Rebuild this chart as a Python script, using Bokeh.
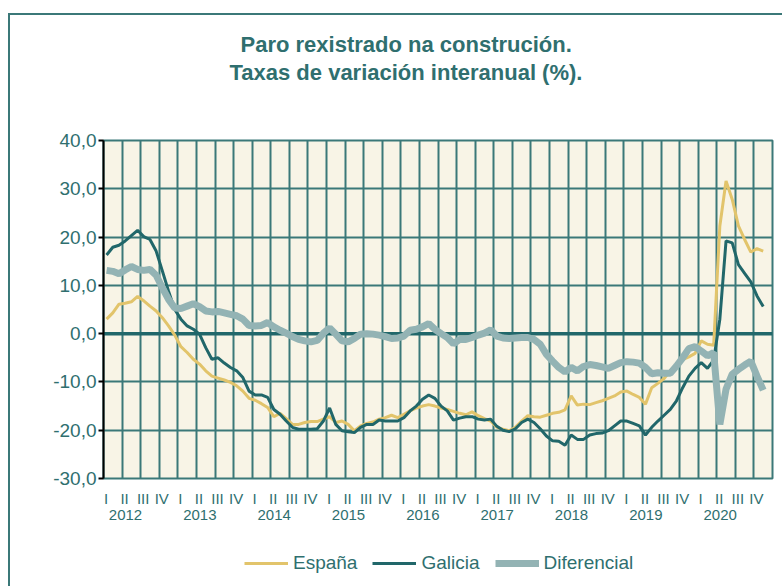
from bokeh.plotting import figure
from bokeh.layouts import column
from bokeh.models import (FixedTicker, LinearAxis, Legend, LegendItem, Title,
                          Range1d, Span, Grid)
from bokeh.embed import file_html
from bokeh.resources import INLINE

# ---------------- data ----------------
years = ["2012", "2013", "2014", "2015", "2016", "2017", "2018", "2019", "2020"]
quarters = ["I", "II", "III", "IV"]
y_ticks = [-30, -20, -10, 0, 10, 20, 30, 40]

# monthly values, Jan 2012 .. Nov 2020
espana = [
    3.0, 4.3, 6.1, 6.3, 6.6, 7.7, 6.8, 5.7, 4.7, 3.3, 1.6, -0.3,
    -2.7, -3.9, -5.3, -6.3, -7.7, -8.8, -9.2, -9.6, -10.1, -10.8, -11.9, -13.4,
    -13.8, -14.5, -15.3, -17.2, -16.5, -17.6, -18.8, -18.8, -18.4, -18.2, -18.2, -17.7,
    -17.2, -18.4, -18.1, -18.8, -20.1, -19.1, -18.6, -18.3, -17.7, -17.4, -16.9, -17.4,
    -16.7, -16.0, -15.4, -15.0, -14.7, -15.0, -15.4, -15.7, -16.1, -16.5, -16.8, -16.2,
    -17.0, -17.6, -18.1, -19.4, -19.8, -20.1, -19.4, -18.1, -17.0, -17.2, -17.3, -16.9,
    -16.5, -16.3, -15.8, -12.9, -14.8, -14.6, -14.7, -14.3, -13.9, -13.4, -12.9, -12.1,
    -11.9, -12.6, -13.2, -14.6, -11.2, -10.3, -9.3, -7.7, -6.5, -5.4, -4.8, -4.1,
    -1.5, -2.2, -2.4, 22.3, 31.6, 27.8, 22.3, 19.5, 16.9, 17.6, 17.1,
]
galicia = [
    16.3, 17.9, 18.3, 19.2, 20.3, 21.4, 20.1, 19.5, 17.1, 13.0, 8.8, 5.0,
    3.0, 1.6, 0.9, -0.1, -2.9, -5.3, -5.0, -6.1, -7.0, -7.7, -9.1, -11.9,
    -12.7, -12.7, -13.2, -15.7, -16.7, -18.1, -19.4, -19.8, -19.8, -19.8, -19.7, -18.1,
    -15.4, -18.8, -20.1, -20.3, -20.5, -19.4, -18.8, -18.8, -17.9, -18.1, -18.1, -18.1,
    -17.4, -16.0, -15.0, -13.6, -12.7, -13.4, -15.0, -16.0, -17.9, -17.5, -17.2, -17.2,
    -17.7, -17.9, -17.7, -19.2, -20.0, -20.3, -19.7, -18.4, -17.7, -18.4, -19.7, -21.2,
    -22.2, -22.3, -23.1, -21.0, -21.9, -21.9, -21.0, -20.7, -20.6, -20.1, -19.1, -18.1,
    -18.1, -18.6, -19.1, -21.0, -19.4, -18.1, -16.9, -15.7, -13.9, -11.2, -8.8, -7.2,
    -6.0, -7.2, -5.5, 3.0, 19.2, 18.8, 14.3, 12.5, 10.7, 7.8, 5.6,
]
diferencial = [
    13.1, 12.9, 12.4, 13.2, 13.9, 13.3, 13.1, 13.3, 12.1, 9.5, 7.1, 5.3,
    5.2, 5.7, 6.2, 5.6, 4.7, 4.5, 4.6, 4.3, 4.0, 3.7, 3.0, 1.7,
    1.6, 1.7, 2.3, 1.4, 0.7, 0.1, -0.6, -1.2, -1.5, -1.7, -1.4, 0.1,
    1.2, -0.1, -1.5, -1.7, -1.0, -0.1, 0.0, -0.1, -0.3, -0.6, -1.0, -0.9,
    -0.5, 0.7, 0.9, 1.4, 2.1, 0.9, 0.0, -0.8, -2.1, -1.2, -1.2, -0.8,
    -0.3, 0.1, 0.8, -0.5, -0.9, -1.0, -0.9, -0.8, -0.8, -1.2, -2.2, -4.3,
    -5.7, -7.0, -7.9, -7.0, -7.7, -6.8, -6.4, -6.6, -6.9, -7.2, -6.6, -6.0,
    -5.8, -5.9, -6.1, -7.0, -8.3, -8.1, -8.2, -8.2, -6.7, -5.0, -3.1, -2.7,
    -3.6, -4.6, -3.9, -18.8, -11.5, -8.4, -7.4, -6.5, -5.7, -8.8, -11.7,
]

# ---------------- style ----------------
TEAL_TXT = "#2F6F6F"
GRID = "#3B7878"
C_ESP = "#E2C46B"
C_GAL = "#21676A"
C_DIF = "#93B3B4"
BG = "#F8F4E6"
FONT = "Liberation Sans"

n_months = 12 * len(years)
x = [k + 0.5 for k in range(len(espana))]

p = figure(frame_width=669, frame_height=338, output_backend="svg",
           toolbar_location=None,
           x_range=Range1d(0, n_months), y_range=Range1d(-30, 40),
           x_axis_type=None, title=None,
           min_border_left=93, min_border_right=10, min_border_top=125,
           min_border_bottom=62,
           background_fill_color=BG, border_fill_color="white",
           outline_line_color=GRID, outline_line_width=2)

# grids
p.ygrid.ticker = FixedTicker(ticks=y_ticks)
p.ygrid.grid_line_color = GRID
p.ygrid.grid_line_width = 2
qb = [3 * q for q in range(4 * len(years) + 1)]
p.add_layout(Grid(dimension=0, ticker=FixedTicker(ticks=qb),
                  grid_line_color=GRID, grid_line_width=2))

p.add_layout(Span(location=0, dimension="width", line_color=C_GAL,
                  line_width=3.5, level="underlay"))

# y axis
ya = p.yaxis[0]
ya.ticker = FixedTicker(ticks=y_ticks)
ya.major_label_overrides = {v: f"{v},0" for v in y_ticks}
ya.axis_line_color = "black"
ya.axis_line_width = 2
ya.major_tick_line_color = "black"
ya.major_tick_line_width = 2
ya.major_tick_out = 5
ya.major_tick_in = 0
ya.minor_tick_line_color = None
ya.major_label_standoff = 2
ya.major_label_text_font = FONT
ya.major_label_text_font_size = "19px"
ya.major_label_text_color = TEAL_TXT

# x axes: quarters and years
q_ticks = [3 * q + 0.4 for q in range(4 * len(years))]
q_axis = LinearAxis(ticker=FixedTicker(ticks=q_ticks),
                    major_label_overrides={t: quarters[i % 4] for i, t in enumerate(q_ticks)},
                    axis_line_color=None, major_tick_line_color=None,
                    minor_tick_line_color=None, major_tick_out=0, major_tick_in=0,
                    major_label_standoff=11, major_label_text_font=FONT,
                    major_label_text_font_size="15px",
                    major_label_text_color=TEAL_TXT)
p.add_layout(q_axis, "below")
y_pos = [12 * i + 3.55 for i in range(len(years))]
y_axis2 = LinearAxis(ticker=FixedTicker(ticks=y_pos),
                     major_label_overrides={t: years[i] for i, t in enumerate(y_pos)},
                     axis_line_color=None, major_tick_line_color=None,
                     minor_tick_line_color=None, major_tick_out=0, major_tick_in=0,
                     major_label_standoff=0, major_label_text_font=FONT,
                     major_label_text_font_size="15px",
                     major_label_text_color=TEAL_TXT)
p.add_layout(y_axis2, "below")

# lines
r_e = p.line(x, espana, line_color=C_ESP, line_width=3)
r_g = p.line(x, galicia, line_color=C_GAL, line_width=3)
r_d = p.line(x, diferencial, line_color=C_DIF, line_width=7)

# title lines (spacer first, nearest the frame)
p.add_layout(Title(text=" ", text_font=FONT, text_font_size="22px",
                   standoff=28), "above")
p.add_layout(Title(text="Taxas de variación interanual (%).", align="left",
                   offset=126, text_font=FONT, text_font_size="22px",
                   text_font_style="bold", text_color=TEAL_TXT, standoff=1),
             "above")
p.add_layout(Title(text="Paro rexistrado na construción.", align="left",
                   offset=137, text_font=FONT, text_font_size="22px",
                   text_font_style="bold", text_color=TEAL_TXT, standoff=1),
             "above")

# legend strip below the chart (frames are aligned with the chart above)
p2 = figure(width=772, height=46, output_backend="svg", toolbar_location=None,
            x_axis_type=None, y_axis_type=None, title=None,
            min_border=0, outline_line_color=None,
            background_fill_color="white", border_fill_color="white")
l_e = p2.line(x, espana, line_color=C_ESP, line_width=3, visible=False)
l_g = p2.line(x, galicia, line_color=C_GAL, line_width=3, visible=False)
l_d = p2.line(x, diferencial, line_color=C_DIF, line_width=7, visible=False)
legend = Legend(items=[LegendItem(label="España", renderers=[l_e]),
                       LegendItem(label="Galicia", renderers=[l_g]),
                       LegendItem(label="Diferencial", renderers=[l_d])],
                orientation="horizontal", location=(141, 12),
                border_line_color=None, background_fill_alpha=0,
                label_text_font=FONT, label_text_font_size="19px",
                label_text_color=TEAL_TXT, glyph_width=44, glyph_height=16,
                spacing=15, label_standoff=5, margin=0, padding=0)
p2.add_layout(legend)

layout = column(p, p2, spacing=0,
                styles={"margin-left": "8px", "margin-top": "13px",
                        "border-left": "2px solid #3B7878",
                        "border-top": "2px solid #3B7878"})

open("out.html", "w").write(file_html(layout, INLINE))
